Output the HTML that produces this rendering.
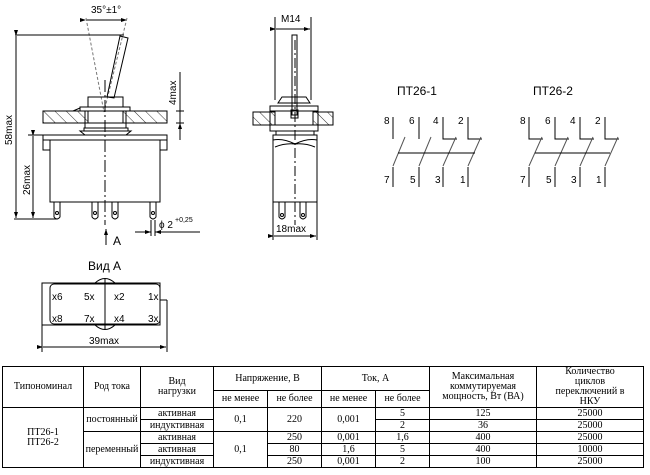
<!DOCTYPE html>
<html><head><meta charset="utf-8"><style>
body{margin:0;background:#fff;width:650px;height:475px;overflow:hidden;position:relative;font-family:"Liberation Sans","DejaVu Sans",sans-serif}
svg{position:absolute;left:0;top:0}
table{position:absolute;left:2px;top:366px;border-collapse:collapse;font-family:"Liberation Serif","DejaVu Serif",serif;font-size:10px;line-height:10px;color:#000}
td{border:1px solid #000;text-align:center;padding:0;height:11px}
</style></head><body>
<svg width="650" height="365" viewBox="0 0 650 365" font-family="Liberation Sans, DejaVu Sans, sans-serif" font-size="11" stroke="#000" fill="none" stroke-width="1">
<defs>
<pattern id="h" width="8" height="8" patternUnits="userSpaceOnUse" patternTransform="rotate(-45)"><line x1="0" y1="0" x2="0" y2="8" stroke="#000" stroke-width="0.8"/></pattern>
<marker id="a" markerWidth="6" markerHeight="6" refX="6" refY="3" orient="auto"><path d="M0,1 L6,3 L0,5z" fill="#000" stroke="none"/></marker>
</defs>
<!-- LEFT VIEW -->
<text x="91" y="13" fill="#000" stroke="none" font-size="10">35°±1°</text>
<line x1="86" y1="20" x2="127" y2="20" marker-start="url(#a)" marker-end="url(#a)"/>
<line x1="86" y1="18" x2="104" y2="112" stroke="#777" stroke-dasharray="3,2"/>
<line x1="127" y1="18" x2="104" y2="112" stroke="#777" stroke-dasharray="3,2"/>
<path d="M120,36 L128,38 L114,98 L107,97 Z"/>
<line x1="15" y1="35" x2="124" y2="35"/>
<line x1="16" y1="36" x2="16" y2="218" marker-start="url(#a)" marker-end="url(#a)"/>
<text transform="translate(12,145) rotate(-90)" fill="#000" stroke="none" font-size="10">58max</text>
<rect x="43" y="111" width="45" height="12" fill="url(#h)"/>
<rect x="123" y="111" width="44" height="12" fill="url(#h)"/>
<path d="M88,97 H123 V107 H88 Z M80,107 H130 V111 H80 Z M73,111 L80,108 M85,111 V123 H126 V111 M85,123 H126 V128 H85 Z M84,128 H128 V131 H84 Z M80,131 L131,131 L126,135 L85,135 Z"/>
<line x1="180" y1="72" x2="180" y2="140"/>
<line x1="176" y1="111" x2="184" y2="111"/><line x1="176" y1="123" x2="184" y2="123"/>
<path d="M180,104 L180,111 M180,130 L180,123" marker-end="url(#a)"/>
<text transform="translate(176,105) rotate(-90)" fill="#000" stroke="none" font-size="10">4max</text>
<rect x="43" y="135" width="124" height="5"/>
<rect x="43" y="140" width="7" height="10"/><rect x="160" y="140" width="7" height="10"/>
<rect x="50" y="140" width="110" height="62"/>
<line x1="28" y1="135" x2="43" y2="135"/>
<line x1="33" y1="136" x2="33" y2="218" marker-start="url(#a)" marker-end="url(#a)"/>
<line x1="14" y1="219" x2="57" y2="219"/>
<text transform="translate(30,195) rotate(-90)" fill="#000" stroke="none" font-size="10">26max</text>
<g><path d="M54,202 V217 Q57,221 60,217 V202"/><circle cx="57" cy="213" r="1.5"/>
<path d="M92,202 V217 Q95,221 98,217 V202"/><circle cx="95" cy="213" r="1.5"/>
<path d="M112,202 V217 Q115,221 118,217 V202"/><circle cx="115" cy="213" r="1.5"/>
<path d="M150,202 V217 Q153,221 156,217 V202"/><circle cx="153" cy="213" r="1.5"/></g>
<line x1="105" y1="80" x2="105" y2="225" stroke-dasharray="12,3,2,3"/>
<line x1="106" y1="245" x2="106" y2="229" marker-end="url(#a)"/>
<text x="113" y="245" fill="#000" stroke="none" font-size="12">A</text>
<line x1="151" y1="220" x2="151" y2="236"/><line x1="155" y1="220" x2="155" y2="236"/>
<line x1="135" y1="232" x2="151" y2="232" marker-end="url(#a)"/><line x1="200" y1="232" x2="155" y2="232" marker-end="url(#a)"/>
<text x="159" y="228" fill="#000" stroke="none" font-size="10">ϕ 2</text>
<text x="175" y="222" fill="#000" stroke="none" font-size="7">+0,25</text>
<!-- MIDDLE VIEW -->
<text x="281" y="22" fill="#000" stroke="none" font-size="10">M14</text>
<line x1="275" y1="17" x2="275" y2="100"/><line x1="311" y1="17" x2="311" y2="100"/>
<line x1="276" y1="29" x2="310" y2="29" marker-start="url(#a)" marker-end="url(#a)"/>
<rect x="292" y="35" width="5" height="80"/>
<path d="M282,97 H306 L310,103 H278 Z M270,106 H318 V111 H270 Z"/>
<rect x="253" y="112" width="22" height="13" fill="url(#h)"/><rect x="313" y="112" width="20" height="13" fill="url(#h)"/>
<path d="M270,111 V125 M318,111 V125 M275,112 V125 M313,112 V125 M270,125 H318 V131 H270 Z M276,131 H314 V135 H276 Z"/>
<rect x="291" y="110" width="7" height="8"/>
<rect x="273" y="135" width="44" height="67"/>
<path d="M273,140 Q283,138 295,144 Q307,138 317,140 M275,147 Q285,143 295,144 Q305,143 315,147"/>
<line x1="295" y1="40" x2="295" y2="225" stroke-dasharray="10,3,2,3"/>
<path d="M279,202 V217 Q282,221 285,217 V202"/><circle cx="282" cy="215" r="1.5"/>
<path d="M300,202 V217 Q303,221 306,217 V202"/><circle cx="303" cy="215" r="1.5"/>
<line x1="273" y1="202" x2="273" y2="240"/><line x1="317" y1="202" x2="317" y2="240"/>
<text x="276" y="232" fill="#000" stroke="none" font-size="10">18max</text>
<line x1="274" y1="236" x2="316" y2="236" marker-start="url(#a)" marker-end="url(#a)"/>
<!-- SCHEMATICS -->
<g fill="#000" stroke="none" font-size="12"><text x="397" y="95">ПТ26-1</text><text x="533" y="95">ПТ26-2</text></g>
<g fill="#000" stroke="none" font-size="10">
<text x="384" y="124">8</text><text x="409" y="124">6</text><text x="433" y="124">4</text><text x="458" y="124">2</text>
<text x="384" y="183">7</text><text x="410" y="183">5</text><text x="435" y="183">3</text><text x="460" y="183">1</text>
<text x="520" y="124">8</text><text x="545" y="124">6</text><text x="570" y="124">4</text><text x="595" y="124">2</text>
<text x="520" y="183">7</text><text x="546" y="183">5</text><text x="571" y="183">3</text><text x="596" y="183">1</text>
</g>
<g stroke="#000">
<path d="M393,117 V139 M419,117 V139 M443,117 V139 H457 M468,117 V139 H482"/>
<path d="M393,187 V167 M419,187 V167 M443,187 V167 M468,187 V167"/>
<path d="M393,166 L405,137 M419,166 L431,137 M443,166 L456,137 M468,166 L481,137" stroke="#555"/>
<line x1="398" y1="153" x2="475" y2="153"/>
<path d="M529,117 V139 H543 M555,117 V139 H569 M580,117 V139 H594 M605,117 V139 H619"/>
<path d="M529,187 V167 M555,187 V167 M580,187 V167 M605,187 V167"/>
<path d="M529,166 L542,137 M555,166 L568,137 M580,166 L593,137 M605,166 L618,137" stroke="#555"/>
<line x1="535" y1="153" x2="610" y2="153"/>
</g>
<!-- VIEW A -->
<text x="88" y="270" fill="#000" stroke="none" font-size="12">Вид А</text>
<rect x="42" y="283" width="118" height="42"/>
<rect x="50" y="284" width="110" height="40" rx="4"/>
<line x1="160" y1="300" x2="167" y2="300"/>
<line x1="105" y1="279" x2="105" y2="329"/>
<path d="M95,283 Q105,274 115,283 M95,325 Q105,334 115,325"/>
<g fill="#000" stroke="none" font-size="10">
<text x="52" y="300">x6</text><text x="84" y="300">5x</text><text x="114" y="300">x2</text><text x="148" y="300">1x</text>
<text x="52" y="322">x8</text><text x="84" y="322">7x</text><text x="114" y="322">x4</text><text x="148" y="322">3x</text>
<text x="89" y="344">39max</text></g>
<line x1="42" y1="325" x2="42" y2="352"/><line x1="167" y1="300" x2="167" y2="352"/>
<line x1="43" y1="347" x2="166" y2="347" marker-start="url(#a)" marker-end="url(#a)"/>
</svg>
<table>
<tr style="height:23px"><td rowspan="2" style="width:80px">Типономинал</td><td rowspan="2" style="width:56px">Род тока</td><td rowspan="2" style="width:72px">Вид<br>нагрузки</td><td colspan="2">Напряжение, В</td><td colspan="2">Ток, А</td><td rowspan="2" style="width:106px">Максимальная<br>коммутируемая<br>мощность, Вт (ВА)</td><td rowspan="2" style="width:106px">Количество<br>циклов<br>переключений в<br>НКУ</td></tr>
<tr style="height:16px"><td style="width:53px">не менее</td><td style="width:53px">не более</td><td style="width:53px">не менее</td><td style="width:53px">не более</td></tr>
<tr><td rowspan="5">ПТ26-1<br>ПТ26-2</td><td rowspan="2">постоянный</td><td>активная</td><td rowspan="2">0,1</td><td rowspan="2">220</td><td rowspan="2">0,001</td><td>5</td><td>125</td><td>25000</td></tr>
<tr><td>индуктивная</td><td>2</td><td>36</td><td>25000</td></tr>
<tr><td rowspan="3">переменный</td><td>активная</td><td rowspan="3">0,1</td><td>250</td><td>0,001</td><td>1,6</td><td>400</td><td>25000</td></tr>
<tr><td>активная</td><td>80</td><td>1,6</td><td>5</td><td>400</td><td>10000</td></tr>
<tr><td>индуктивная</td><td>250</td><td>0,001</td><td>2</td><td>100</td><td>25000</td></tr>
</table>
</body></html>
